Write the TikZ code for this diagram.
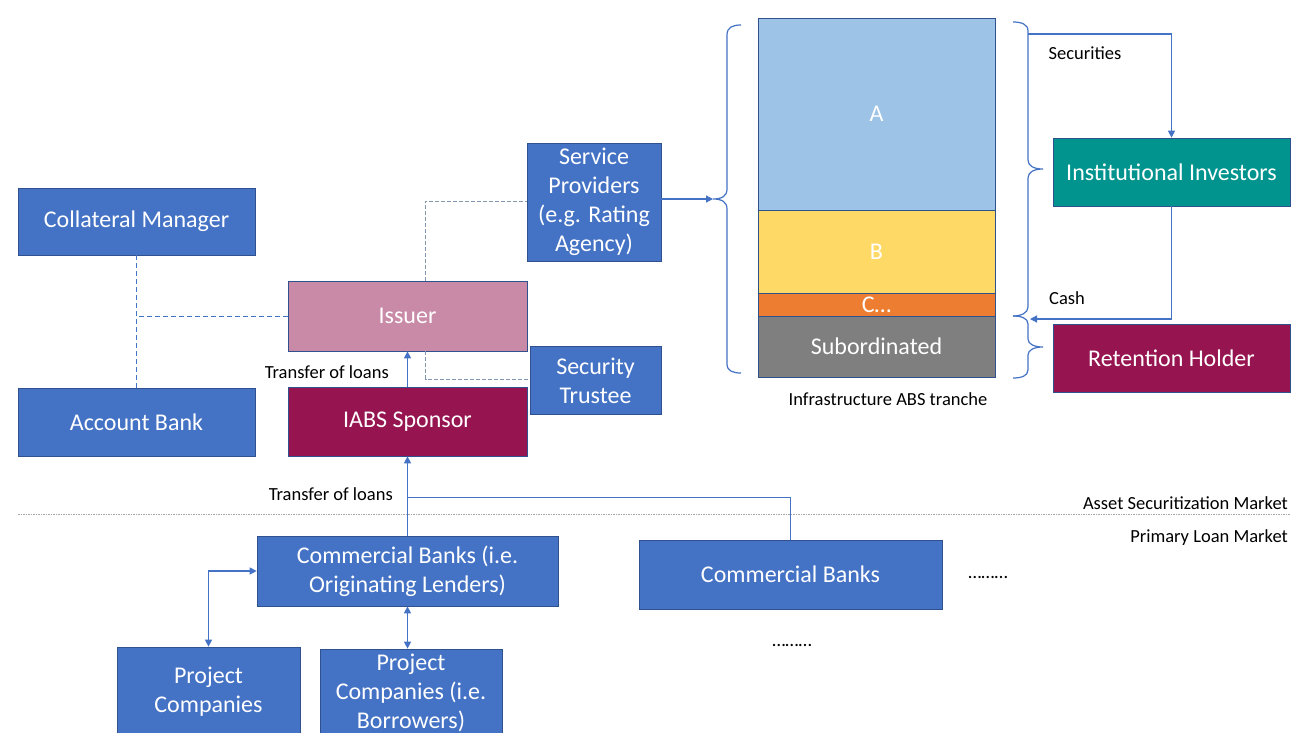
\documentclass[tikz,border=0pt]{standalone}
\usepackage{fontspec}
\setmainfont{Carlito}
\usetikzlibrary{arrows.meta}
\definecolor{oblue}{HTML}{4472C4}
\definecolor{bord}{HTML}{2F528F}
\definecolor{issuerpink}{HTML}{C98AA8}
\definecolor{plum}{HTML}{961551}
\definecolor{teal2}{HTML}{01948E}
\definecolor{tA}{HTML}{9DC3E6}
\definecolor{tB}{HTML}{FFD966}
\definecolor{tC}{HTML}{ED7D31}
\definecolor{tS}{HTML}{7F7F7F}
\definecolor{dashgray}{HTML}{8497B0}
\definecolor{sepgray}{HTML}{A6A6A6}
\begin{document}
\begin{tikzpicture}[x=1pt,y=-1pt,
  ubox/.style={draw=bord, line width=0.7pt, fill=#1, text=white, inner sep=0pt, align=center,
    font=\fontsize{24}{29}\selectfont},
  ubox/.default=oblue,
  lbl/.style={inner sep=0pt, text=black, font=\fontsize{18.5}{21}\selectfont},
  conn/.style={draw=oblue, line width=1.2pt},
  arr/.style={conn, -{Triangle[width=7pt,length=7pt]}},
  darr/.style={conn, {Triangle[width=7pt,length=7pt]}-{Triangle[width=7pt,length=7pt]}},
  dashB/.style={draw=oblue, line width=1pt, dash pattern=on 5pt off 3pt},
  dashG/.style={draw=dashgray, line width=1pt, dash pattern=on 4pt off 2pt},
  bracel/.style={draw=oblue, line width=1.2pt}
]
\clip (0,0) rectangle (1293,732);
\fill[white] (0,0) rectangle (1293,732);

% separator
\draw[sepgray, line width=1pt, dash pattern=on 1.5pt off 1pt] (18,514) -- (1290,514);

% left column
\node[ubox, minimum width=237, minimum height=67] (cm) at (136.5,221.5) {Collateral Manager};
\node[ubox, minimum width=237, minimum height=68] (ab) at (136.5,422) {Account Bank};
\node[ubox=issuerpink, minimum width=239, minimum height=70] (iss) at (407.5,316) {Issuer};
\node[ubox=plum, minimum width=239, minimum height=69] (spo) at (407.5,421.5) {IABS Sponsor};
\node[ubox, minimum width=134, minimum height=118] (sp) at (594,202) {Service\\Providers\\(e.g. Rating\\Agency)};
\node[ubox, minimum width=131, minimum height=68] (st) at (595.5,380.5) {Security\\Trustee};

% tranches
\node[ubox=tA, minimum width=237, minimum height=192] (ta) at (876.5,114) {A};
\node[ubox=tB, minimum width=237, minimum height=83] (tb) at (876.5,251.5) {B};
\node[ubox=tC, minimum width=237, minimum height=23] (tc) at (876.5,304.5) {C\ldots};
\node[ubox=tS, minimum width=237, minimum height=61] (ts) at (876.5,346.5) {Subordinated};
\node[lbl] (trl) at (888,399) {Infrastructure ABS tranche};

% investors
\node[ubox=teal2, minimum width=237, minimum height=68] (inst) at (1171.5,172) {Institutional Investors};
\node[ubox=plum, minimum width=237, minimum height=68] (ret) at (1171.5,358) {Retention Holder};

% bottom
\node[ubox, minimum width=301, minimum height=70] (cb1) at (407.5,571) {Commercial Banks (i.e.\\Originating Lenders)};
\node[ubox, minimum width=303, minimum height=69] (cb2) at (790.5,574.5) {Commercial Banks};
\node[ubox, minimum width=183, minimum height=90] (pc1) at (208.5,692) {Project\\Companies};
\node[ubox, minimum width=182, minimum height=87] (pc2) at (411,692.5) {Project\\Companies (i.e.\\Borrowers)};

% braces
\coordinate (tipL) at (713,199);
\draw[bracel] (741,25) .. controls (733,25) and (727,27) .. (727,35) -- (727,189)
  .. controls (727,196) and (722,199) .. (tipL)
  .. controls (722,199) and (727,202) .. (727,209) -- (727,364)
  .. controls (727,371) and (733,373) .. (741,373);
\coordinate (tipR1) at (1043,169);
\draw[bracel] (1013,22) .. controls (1021,22) and (1028,24) .. (1028,31) -- (1028,160)
  .. controls (1028,166) and (1034,169) .. (tipR1)
  .. controls (1034,169) and (1028,172) .. (1028,178) -- (1028,307)
  .. controls (1028,313) and (1021,316) .. (1013,316);
\coordinate (tipR2) at (1043,347);
\draw[bracel] (1013,316) .. controls (1021,316) and (1028,318) .. (1028,324) -- (1028,339)
  .. controls (1028,344) and (1034,347) .. (tipR2)
  .. controls (1034,347) and (1028,350) .. (1028,355) -- (1028,370)
  .. controls (1028,376) and (1021,378) .. (1013,378);

% connectors
\draw[dashB] (cm.south) -- (ab.north);
\draw[dashB] (iss.west) -- (iss.west -| cm.south);
\draw[dashG] ([xshift=17.5pt]iss.north) |- ([yshift=1pt]sp.west);
\draw[dashG] ([xshift=18pt]iss.south) |- ([yshift=1.5pt]st.west);
\draw[arr] (spo.north) -- (iss.south);
\node[lbl, anchor=east] (tl1) at (389,372) {Transfer of loans};

\draw[arr] (sp.east |- tipL) -- (tipL);
\coordinate (secS) at (1028,34);
\draw[arr] (secS) -| (inst.north);
\node[lbl] (secl) at (1085,53) {Securities};
\coordinate (cashE) at (1030,319);
\draw[arr] (inst.south) |- (cashE);
\node[lbl] (cashl) at (1067,298) {Cash};

\draw[arr] (cb1.north) -- (spo.south);
\path (cb1.north) ++(0,-38) coordinate (jt);
\draw[conn] (jt) -| (cb2.north);
\node[lbl, anchor=east] (tl2) at (393,494) {Transfer of loans};
\draw[darr] (cb1.west) -| (pc1.north);
\draw[darr] (cb1.south) -- (cb1.south |- pc2.north);

\node[lbl, anchor=east] (asm) at (1288,503) {Asset Securitization Market};
\node[lbl, anchor=east] (plm) at (1288,538) {Primary Loan Market};
\node[lbl, font=\fontsize{19}{21}\selectfont] (d1) at (988,577) {………};
\node[lbl, font=\fontsize{19}{21}\selectfont] (d2) at (792,645) {………};
\end{tikzpicture}
\end{document}
